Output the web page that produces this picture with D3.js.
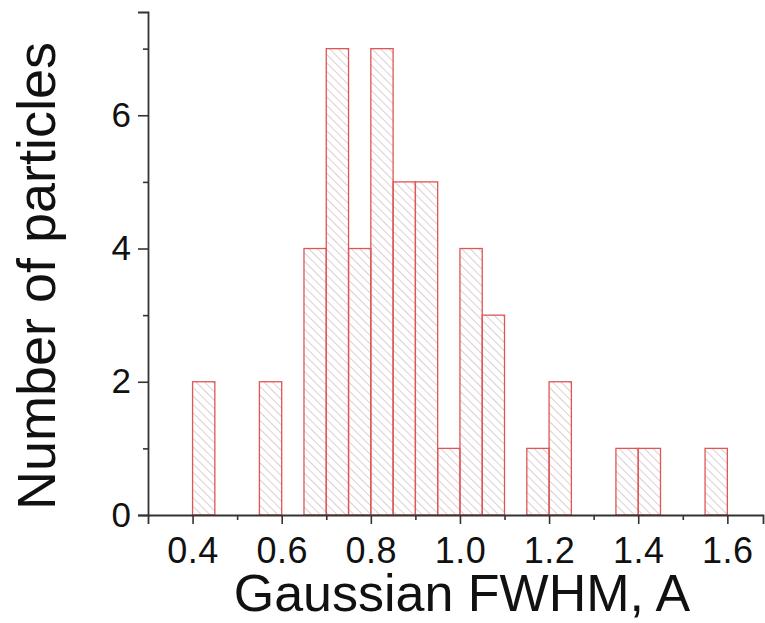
<!DOCTYPE html>
<html>
<head>
<meta charset="utf-8">
<script src="https://cdn.jsdelivr.net/npm/d3@7"></script>
<style>
  body { margin: 0; background: #fff; }
  text { font-family: "Liberation Sans", Arial, sans-serif; fill: #111; }
</style>
</head>
<body>
<div id="chart"></div>
<script>
// histogram bins (left edge, right edge) and counts
let binStart = [0.40, 0.55, 0.65, 0.70, 0.75, 0.80, 0.85, 0.90, 0.95, 1.00, 1.05, 1.15, 1.20, 1.35, 1.40, 1.55];
let binEnd   = [0.45, 0.60, 0.70, 0.75, 0.80, 0.85, 0.90, 0.95, 1.00, 1.05, 1.10, 1.20, 1.25, 1.40, 1.45, 1.60];
let counts   = [2, 2, 4, 7, 4, 7, 5, 5, 1, 4, 3, 1, 2, 1, 1, 1];

let xMajor = [0.4, 0.6, 0.8, 1.0, 1.2, 1.4, 1.6];
let xMinor = [0.5, 0.7, 0.9, 1.1, 1.3, 1.5];
let yMajor = [0, 2, 4, 6];
let yMinor = [1, 3, 5, 7];

let svgWidth = 765;
let svgHeight = 623;

let svg = d3.select("#chart")
  .append("svg")
  .attr("width", svgWidth)
  .attr("height", svgHeight);

// hatch pattern for the bars
let defs = svg.append("defs");
let pat = defs.append("pattern")
  .attr("id", "hatch")
  .attr("patternUnits", "userSpaceOnUse")
  .attr("width", 6)
  .attr("height", 6)
  .attr("patternTransform", "rotate(-45)");
pat.append("line")
  .attr("x1", 0).attr("y1", 0)
  .attr("x2", 0).attr("y2", 6)
  .attr("stroke", "#c4adb6")
  .attr("stroke-width", 1.2);

let x = d3.scaleLinear().domain([0.3, 1.68]).range([148, 763]);
let y = d3.scaleLinear().domain([0, 7.55]).range([515, 12]);

let data = counts.map((c, i) => ({ x0: binStart[i], x1: binEnd[i], n: c }));

// bars
svg.append("g")
  .selectAll("rect")
  .data(data)
  .enter()
  .append("rect")
  .attr("x", d => x(d.x0))
  .attr("y", d => y(d.n))
  .attr("width", d => x(d.x1) - x(d.x0))
  .attr("height", d => y(0) - y(d.n))
  .attr("fill", "url(#hatch)")
  .attr("stroke", "#e05555")
  .attr("stroke-width", 1.3);

// x axis
let xAxis = svg.append("g")
  .attr("transform", `translate(0, ${y(0)})`)
  .call(d3.axisBottom(x).tickValues(xMajor).tickFormat(d3.format(".1f")).tickSize(9).tickPadding(13));
let xAxisMinor = svg.append("g")
  .attr("transform", `translate(0, ${y(0)})`)
  .call(d3.axisBottom(x).tickValues(xMinor).tickFormat("").tickSize(5));

// y axis
let yAxis = svg.append("g")
  .attr("transform", `translate(${x(0.3)}, 0)`)
  .call(d3.axisLeft(y).tickValues(yMajor).tickFormat(d3.format("d")).tickSize(10).tickPadding(7));
let yAxisMinor = svg.append("g")
  .attr("transform", `translate(${x(0.3)}, 0)`)
  .call(d3.axisLeft(y).tickValues(yMinor).tickFormat("").tickSize(5));

svg.selectAll(".domain").attr("stroke", "#333").attr("stroke-width", 1.8);
svg.selectAll(".tick line").attr("stroke", "#333").attr("stroke-width", 1.6);
xAxisMinor.select(".domain").remove();
yAxisMinor.select(".domain").remove();

xAxis.selectAll("text")
  .attr("font-size", 36)
  .attr("letter-spacing", 0.5)
  .attr("fill", "#111")
  .attr("font-family", "Liberation Sans, Arial, sans-serif");
yAxis.selectAll("text")
  .attr("font-size", 35)
  .attr("fill", "#111")
  .attr("font-family", "Liberation Sans, Arial, sans-serif");

// axis titles
svg.append("text")
  .attr("x", 462)
  .attr("y", 611)
  .attr("text-anchor", "middle")
  .attr("font-size", 52)
  .text("Gaussian FWHM, A");

svg.append("text")
  .attr("transform", "translate(55, 276) rotate(-90)")
  .attr("text-anchor", "middle")
  .attr("font-size", 54)
  .text("Number of particles");
</script>
</body>
</html>
